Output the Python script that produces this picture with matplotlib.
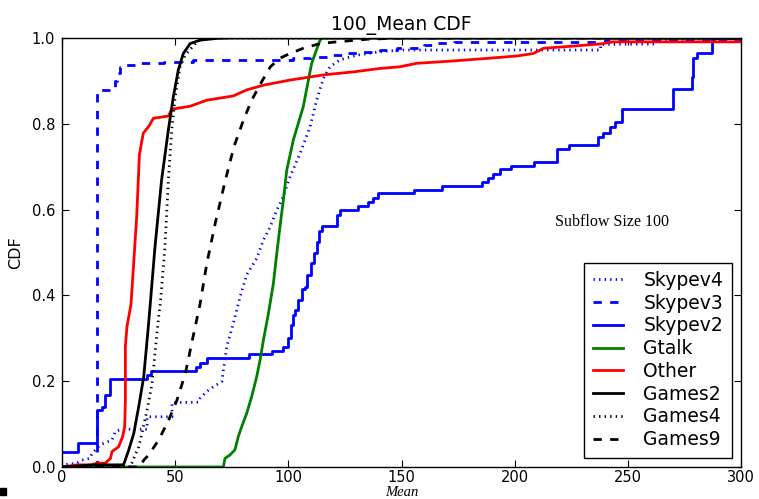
import matplotlib
matplotlib.use("Agg")
import matplotlib.pyplot as plt
from matplotlib.patches import Rectangle

plt.rcParams['lines.scale_dashes'] = False
plt.rcParams['lines.dashed_pattern'] = [6, 6]
plt.rcParams['lines.dotted_pattern'] = [1, 3]

# ---- data ----
skypev2_x = [0, 7.1, 15.5, 17.7, 19.1, 21.4, 37.6, 39.5, 59.2, 61, 63.9, 82.8, 92.8, 97.5,
             100, 101, 102.2, 103, 104.2, 105.9, 107.4, 108.2, 110, 111.2, 112.5, 113.5,
             115, 121.7, 123, 130.8, 135, 137.5, 139.5, 155.5, 168, 185.5, 188.4, 190.6,
             193.3, 198.4, 208.7, 218.5, 224.1, 236.9, 239.1, 242.1, 244.4, 247.3, 270.1,
             278.2, 279, 280.4, 287.1, 288, 300]
skypev2_y = [0.036, 0.055, 0.133, 0.14, 0.168, 0.205, 0.215, 0.2245, 0.234, 0.243, 0.253,
             0.263, 0.271, 0.280, 0.30, 0.33, 0.354, 0.366, 0.389, 0.416, 0.42, 0.448,
             0.475, 0.498, 0.525, 0.551, 0.562, 0.587, 0.599, 0.608, 0.618, 0.628, 0.638,
             0.646, 0.656, 0.665, 0.674, 0.684, 0.694, 0.702, 0.712, 0.741, 0.750, 0.769,
             0.778, 0.793, 0.805, 0.834, 0.880, 0.910, 0.953, 0.964, 0.995, 1.0, 1.0]

skypev3_x = [0, 15.6, 23.5, 24.5, 25.6, 28, 35, 45, 55, 58, 102, 110, 117, 125, 131.7,
             140.5, 148, 160, 164, 173, 240, 295, 300]
skypev3_y = [0.0, 0.879, 0.90, 0.918, 0.933, 0.938, 0.941, 0.943, 0.945, 0.949, 0.953,
             0.956, 0.960, 0.964, 0.968, 0.972, 0.976, 0.984, 0.988, 0.991, 0.995, 0.998, 0.998]

skypev4_x = [0, 0.6, 6.5, 8.8, 12.4, 13.3, 15.5, 16.9, 22.1, 23.6, 26.5, 37.6, 37.6, 48.6,
             48.6, 60.4, 61, 63.9, 66.9, 70.6, 71.3, 72.8, 75.7, 78.7, 81.6, 86, 89, 92,
             94.9, 97.1, 100.8, 105.2, 109.6, 112.5, 115.5, 118.4, 122.8, 130.2, 140.5,
             150, 238, 238, 262, 262, 300]
skypev4_y = [0, 0.005, 0.009, 0.016, 0.02, 0.032, 0.044, 0.052, 0.063, 0.083, 0.088, 0.088,
             0.117, 0.117, 0.15, 0.151, 0.16, 0.176, 0.187, 0.199, 0.226, 0.28, 0.335,
             0.397, 0.448, 0.486, 0.529, 0.56, 0.599, 0.622, 0.677, 0.731, 0.793, 0.855,
             0.906, 0.933, 0.949, 0.96, 0.968, 0.972, 0.972, 0.985, 0.986, 0.995, 1.0]

gtalk_x = [0, 67.6, 71.3, 72, 74.2, 76.4, 77.9, 79.4, 81.6, 83.8, 86, 87.5, 89, 91.2, 93.4,
           94.9, 96.3, 97.8, 99.3, 102.2, 106.6, 110.3, 114, 115, 300]
gtalk_y = [0, 0, 0, 0.02, 0.028, 0.04, 0.071, 0.094, 0.125, 0.164, 0.21, 0.249, 0.296,
           0.358, 0.428, 0.498, 0.56, 0.622, 0.692, 0.762, 0.84, 0.941, 0.995, 1.0, 1.0]

other_x = [0, 6.5, 13.3, 15.3, 19.1, 21.4, 22.1, 25, 26.8, 27.7, 28, 28, 28.7, 30.5, 33,
           34.2, 35.9, 38.2, 40.4, 47, 48.5, 56.6, 64, 75.7, 81.6, 89, 100.8, 115.5, 128.7,
           140.5, 149.4, 156.7, 171.5, 189.1, 200.9, 208.3, 212.7, 223, 237.7, 243.6, 300]
other_y = [0, 0.005, 0.005, 0.009, 0.009, 0.02, 0.036, 0.047, 0.071, 0.094, 0.156, 0.28,
           0.327, 0.38, 0.583, 0.728, 0.778, 0.793, 0.813, 0.818, 0.834, 0.841, 0.855,
           0.865, 0.879, 0.89, 0.902, 0.914, 0.921, 0.929, 0.933, 0.941, 0.946, 0.953,
           0.958, 0.964, 0.976, 0.98, 0.986, 0.991, 0.991]

games2_x = [0, 14, 27.2, 29.5, 31.7, 33.9, 36.1, 38, 38.9, 41.1, 44, 47, 49.2, 51.4, 53.6,
            56.6, 61, 68.3, 75, 300]
games2_y = [0, 0.005, 0.005, 0.04, 0.078, 0.141, 0.21, 0.319, 0.374, 0.514, 0.669, 0.786,
            0.863, 0.926, 0.964, 0.987, 0.995, 0.999, 1.0, 1.0]

games4_x = [0, 30.2, 31.7, 33.9, 35.3, 37.6, 39.8, 41.2, 42.7, 43.5, 45.5, 47, 48.5, 50,
            52.2, 54.4, 59.6, 62.5, 70, 300]
games4_y = [0, 0, 0.02, 0.047, 0.078, 0.133, 0.195, 0.272, 0.35, 0.385, 0.514, 0.669,
            0.786, 0.863, 0.933, 0.96, 0.991, 0.999, 1.0, 1.0]

games9_x = [0, 34.6, 36.1, 38.3, 42.7, 47.1, 50.8, 54.5, 58.2, 61, 64, 67.7, 72.2, 76,
            80.2, 83.8, 88.2, 92.1, 96.3, 100.8, 106.6, 114, 121.4, 134.6, 150, 300]
games9_y = [0, 0, 0.016, 0.028, 0.063, 0.109, 0.156, 0.218, 0.311, 0.38, 0.475, 0.568,
            0.669, 0.747, 0.809, 0.855, 0.898, 0.933, 0.953, 0.964, 0.976, 0.987, 0.991,
            0.997, 1.0, 1.0]

xticks = [0, 50, 100, 150, 200, 250, 300]
yticks = [0.0, 0.2, 0.4, 0.6, 0.8, 1.0]

# ---- figure ----
fig = plt.figure(figsize=(7.59, 4.99), dpi=100)
ax = fig.add_axes([62/759, 32/499, 679/759, 429/499])

lw = 2.0
ax.plot(skypev4_x, skypev4_y, color='#0000ff', ls=':', lw=lw, label='Skypev4')
ax.plot(skypev3_x, skypev3_y, color='#0000ff', ls='--', lw=lw, label='Skypev3',
        drawstyle='steps-post')
ax.plot(skypev2_x, skypev2_y, color='#0000ff', ls='-', lw=lw, label='Skypev2',
        drawstyle='steps-post')
ax.plot(gtalk_x, gtalk_y, color='#008000', ls='-', lw=lw, label='Gtalk')
ax.plot(other_x, other_y, color='#ff0000', ls='-', lw=lw, label='Other')
ax.plot(games2_x, games2_y, color='black', ls='-', lw=lw, label='Games2')
ax.plot(games4_x, games4_y, color='black', ls=':', lw=lw, label='Games4')
ax.plot(games9_x, games9_y, color='black', ls='--', lw=lw, label='Games9')

ax.set_xlim(0, 300)
ax.set_ylim(0, 1.0)
ax.set_xticks(xticks)
ax.set_yticks(yticks)
ax.set_yticklabels([f"{v:.1f}" for v in yticks])
ax.tick_params(direction='in', length=5, width=0.8, top=True, right=True,
               labelsize=10.5, pad=5)
ax.tick_params(axis='x', pad=2)
for s in ax.spines.values():
    s.set_linewidth(1.0)

ax.set_title('100_Mean CDF', fontsize=13.5, pad=6)
ax.set_xlabel('Mean', family='Liberation Serif', style='italic', fontsize=10.5)
ax.xaxis.set_label_coords(0.5, -25/429)
ax.xaxis.label.set_va('center')
ax.set_ylabel('CDF', fontsize=11.5, labelpad=6)

ax.text(217.8, 0.571, 'Subflow Size 100', family='Liberation Serif', fontsize=11.5,
        va='center', ha='left')

leg = ax.legend(loc='lower right', fontsize=13.5, frameon=True, fancybox=False,
                edgecolor='black', framealpha=1, handlelength=1.6, labelspacing=0.2,
                borderaxespad=0.5, handletextpad=1.1, borderpad=0.45)
leg.get_frame().set_linewidth(1.0)

fig.patches.append(Rectangle((0, 4/499), 6/759, 7/499, transform=fig.transFigure,
                             color='black'))

fig.savefig('out.png', dpi=100)
